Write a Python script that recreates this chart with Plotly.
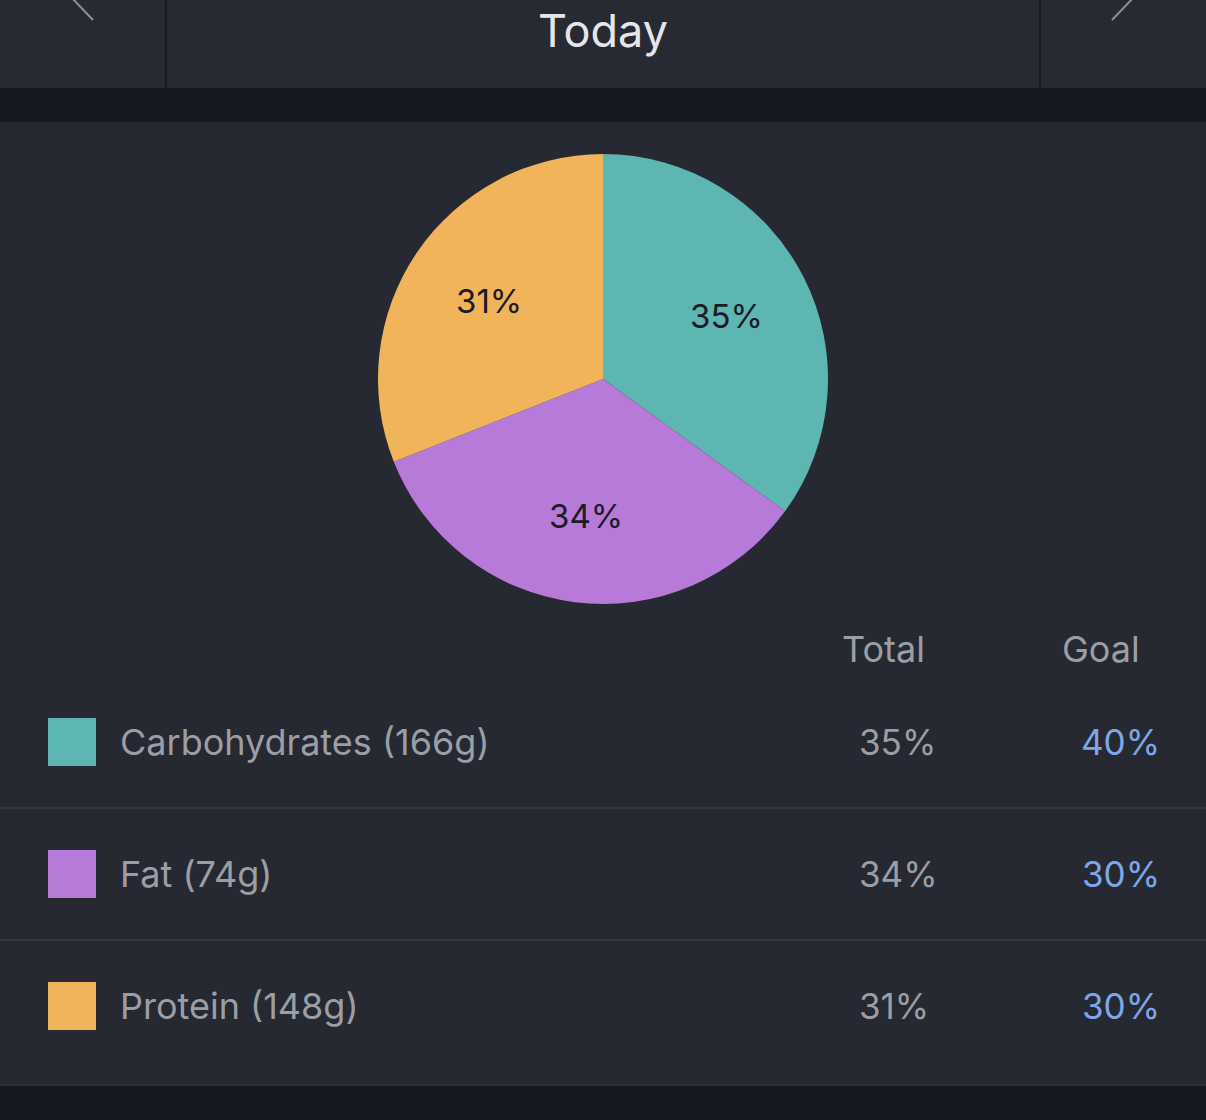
import math
import plotly.graph_objects as go

# ---- data ----
nutrients = ["Carbohydrates", "Fat", "Protein"]
grams = [166, 74, 148]
total_pct = [35, 34, 31]
goal_pct = [40, 30, 30]
colors = ["#5db6b1", "#b87ad9", "#f2b45a"]
header_title = "Today"
col_headers = ["Total", "Goal"]

W, H = 1206, 1120
BG = "#262932"
DARK = "#161922"
GREY = "#9c9ea6"
BLUE = "#7ea7e8"
FONT = "Inter, Roboto, sans-serif"

fig = go.Figure()

# pie
cx, cy, r = 603, 379, 225
fig.add_trace(go.Pie(
    labels=nutrients, values=total_pct, sort=False, direction="clockwise",
    rotation=0, marker=dict(colors=colors, line=dict(width=0)),
    textinfo="none",
    domain=dict(x=[(cx - r) / W, (cx + r) / W], y=[1 - (cy + r) / H, 1 - (cy - r) / H]),
    showlegend=False, hoverinfo="skip",
))

shapes = []
annotations = []

# slice labels placed on each slice's bisector (derived from the values)
tot = sum(total_pct)
cum = 0
for v in total_pct:
    mid = (cum + v / 2) / tot * 2 * math.pi
    cum += v
    lx = cx + 0.615 * r * math.sin(mid)
    ly = cy - 0.615 * r * math.cos(mid)
    annotations.append(dict(x=lx, y=ly, text=f"{v}%", showarrow=False, xanchor="center", yanchor="middle",
                            font=dict(family=FONT, size=33, color="#1c1b26")))

# header
shapes.append(dict(type="rect", x0=0, x1=W, y0=0, y1=88, fillcolor="#272a33", line_width=0, layer="below"))
shapes.append(dict(type="line", x0=166, x1=166, y0=0, y1=88, line=dict(color="#181b23", width=2)))
shapes.append(dict(type="line", x0=1040, x1=1040, y0=0, y1=88, line=dict(color="#181b23", width=2)))
# arrows
shapes.append(dict(type="path", path="M 71 -3 L 93 20", line=dict(color="#8e9097", width=2)))
shapes.append(dict(type="path", path="M 1134 -3 L 1112 20", line=dict(color="#8e9097", width=2)))
# dark bands
shapes.append(dict(type="rect", x0=0, x1=W, y0=88, y1=122, fillcolor=DARK, line_width=0, layer="below"))
shapes.append(dict(type="rect", x0=0, x1=W, y0=1086, y1=H, fillcolor=DARK, line_width=0, layer="below"))
shapes.append(dict(type="line", x0=0, x1=W, y0=1085, y1=1085, line=dict(color="#2e313c", width=2)))

annotations.append(dict(x=603, y=30, text=header_title, showarrow=False, xanchor="center", yanchor="middle",
                        font=dict(family=FONT, size=45, color="#e6e6ea")))
annotations.append(dict(x=883, y=649, text=col_headers[0], showarrow=False, xanchor="center", yanchor="middle",
                        font=dict(family=FONT, size=36, color=GREY)))
annotations.append(dict(x=1101, y=649, text=col_headers[1], showarrow=False, xanchor="center", yanchor="middle",
                        font=dict(family=FONT, size=36, color=GREY)))

row0, pitch = 742, 132
for i, (n, g, t, gl, c) in enumerate(zip(nutrients, grams, total_pct, goal_pct, colors)):
    yc = row0 + i * pitch
    shapes.append(dict(type="rect", x0=48, x1=96, y0=yc - 24, y1=yc + 24, fillcolor=c, line_width=0))
    annotations.append(dict(x=118, y=yc, text=f"{n} ({g}g)", showarrow=False, xanchor="left", yanchor="middle",
                            font=dict(family=FONT, size=36, color=GREY)))
    annotations.append(dict(x=857, y=yc, text=f"{t}%", showarrow=False, xanchor="left", yanchor="middle",
                            font=dict(family=FONT, size=35, color=GREY)))
    annotations.append(dict(x=1162, y=yc, text=f"{gl}%", showarrow=False, xanchor="right", yanchor="middle",
                            font=dict(family=FONT, size=35, color=BLUE)))
    if i < len(nutrients) - 1:
        shapes.append(dict(type="line", x0=0, x1=W, y0=yc + 66, y1=yc + 66, line=dict(color="#393c46", width=1.5)))

for a in annotations:
    a["xref"] = "x"
    a["yref"] = "y"
for s in shapes:
    s["xref"] = "x"
    s["yref"] = "y"

fig.update_layout(
    width=W, height=H, margin=dict(l=0, r=0, t=0, b=0),
    paper_bgcolor=BG, plot_bgcolor=BG,
    xaxis=dict(range=[0, W], visible=False, domain=[0, 1], fixedrange=True),
    yaxis=dict(range=[H, 0], visible=False, domain=[0, 1], fixedrange=True),
    shapes=shapes, annotations=annotations,
)

fig.write_html("out.html", config={"displayModeBar": False},
               post_script="document.body.style.margin='0';document.body.style.background='#262932';")
